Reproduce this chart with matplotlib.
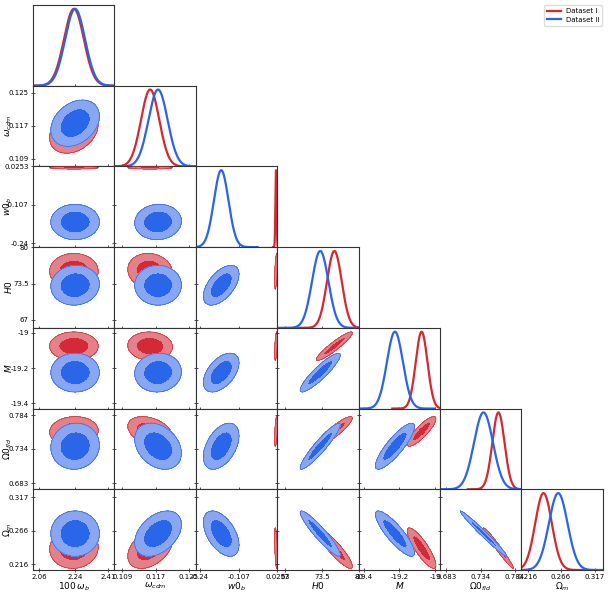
import numpy as np
import matplotlib
matplotlib.use('Agg')
import matplotlib.pyplot as plt
from matplotlib.lines import Line2D

# parametros (ordem do triangulo)
labels = [r'$100\,\omega_b$', r'$\omega_{cdm}$', r'$w0_b$', r'$H0$', r'$M$',
          r'$\Omega0_{fld}$', r'$\Omega_m$']
limits = [(2.03, 2.44), (0.1071, 0.1267), (-0.254, 0.0253), (65.6, 80.0),
          (-19.429, -18.971), (0.674, 0.794), (0.207, 0.329)]
ticks = [[2.06, 2.24, 2.41], [0.109, 0.117, 0.125], [-0.24, -0.107, 0.0253],
         [67, 73.5, 80], [-19.4, -19.2, -19.0], [0.683, 0.734, 0.784],
         [0.216, 0.266, 0.317]]
tick_labels = [['2.06', '2.24', '2.41'], ['0.109', '0.117', '0.125'],
               ['-0.24', '-0.107', '0.0253'], ['67', '73.5', '80'],
               ['-19.4', '-19.2', '-19'], ['0.683', '0.734', '0.784'],
               ['0.216', '0.266', '0.317']]

# Dataset I (vermelho)
mean1 = [2.236, 0.1157, 0.021, 75.7, -19.075, 0.760, 0.240]
sigma1 = [0.050, 0.0022, 0.002, 1.30, 0.033, 0.009, 0.0125]
corr1 = [
    [1.00, 0.30, 0.00, 0.00, 0.00, 0.05, 0.05],
    [0.30, 1.00, 0.00, -0.10, -0.05, -0.35, 0.40],
    [0.00, 0.00, 1.00, 0.50, 0.50, 0.50, -0.50],
    [0.00, -0.10, 0.50, 1.00, 0.93, 0.90, -0.90],
    [0.00, -0.05, 0.50, 0.93, 1.00, 0.85, -0.85],
    [0.05, -0.35, 0.50, 0.90, 0.85, 1.00, -0.98],
    [0.05, 0.40, -0.50, -0.90, -0.85, -0.98, 1.00],
]

# Dataset II (azul)
mean2 = [2.242, 0.1176, -0.167, 73.2, -19.225, 0.738, 0.262]
sigma2 = [0.050, 0.0023, 0.025, 1.45, 0.045, 0.014, 0.014]
corr2 = [
    [1.00, 0.30, 0.00, 0.05, 0.00, 0.05, 0.00],
    [0.30, 1.00, 0.05, 0.00, 0.05, -0.30, 0.40],
    [0.00, 0.05, 1.00, 0.55, 0.50, 0.45, -0.50],
    [0.05, 0.00, 0.55, 1.00, 0.90, 0.93, -0.93],
    [0.00, 0.05, 0.50, 0.90, 1.00, 0.85, -0.85],
    [0.05, -0.30, 0.45, 0.93, 0.85, 1.00, -0.985],
    [0.00, 0.40, -0.50, -0.93, -0.85, -0.985, 1.00],
]

nomes = ['Dataset I', 'Dataset II']
cor_linha = ['#D62830', '#2A64EA']
cor_dentro = ['#D42A38', '#2A66EA']
cor_fora = ['#E48088', '#88A6F2']

datasets = [(mean1, sigma1, corr1), (mean2, sigma2, corr2)]
n = len(labels)

fig, axes = plt.subplots(n, n, figsize=(6.09, 5.93), dpi=100)
fig.subplots_adjust(left=0.0542, right=0.990, top=0.9916, bottom=0.0388,
                    wspace=0, hspace=0)

for i in range(n):
    for j in range(n):
        ax = axes[i, j]
        if j > i:
            ax.axis('off')
            continue

        ax.set_xlim(limits[j])
        ax.set_xticks(ticks[j])
        for s in ax.spines.values():
            s.set_color('#333333')
            s.set_linewidth(0.8)

        if i == j:
            # distribuicao 1D
            for k, (m, sg, c) in enumerate(datasets):
                x = np.linspace(m[j] - 5 * sg[j], m[j] + 5 * sg[j], 800)
                y = np.exp(-0.5 * ((x - m[j]) / sg[j]) ** 2)
                ax.plot(x, y, color=cor_linha[k], lw=1.6)
            ax.set_ylim(0, 1.05)
            ax.set_yticks([])
        else:
            ax.set_ylim(limits[i])
            ax.set_yticks(ticks[i])
            for k, (m, sg, c) in enumerate(datasets):
                mx, my = m[j], m[i]
                sx, sy = sg[j], sg[i]
                r = c[i][j]
                gx = np.linspace(mx - 4 * sx, mx + 4 * sx, 300)
                gy = np.linspace(my - 4 * sy, my + 4 * sy, 300)
                X, Y = np.meshgrid(gx, gy)
                dx = (X - mx) / sx
                dy = (Y - my) / sy
                chi2 = (dx ** 2 - 2 * r * dx * dy + dy ** 2) / (1 - r ** 2)
                z = 2 + 2 * k
                ax.contourf(X, Y, chi2, levels=[0, 2.30, 5.99],
                            colors=[cor_dentro[k], cor_fora[k]], zorder=z)
                ax.contour(X, Y, chi2, levels=[5.99], colors=[cor_linha[k]],
                           linewidths=0.5, zorder=z + 1)

        ax.tick_params(direction='inout', length=3, width=0.6, pad=1.5,
                       labelsize=5, colors='#333333', labelcolor='black')

        if i == n - 1:
            ax.set_xticklabels(tick_labels[j])
            ax.set_xlabel(labels[j], fontsize=6.5, labelpad=0)
        else:
            ax.set_xticklabels([])

        if j == 0 and i > 0:
            ax.set_yticklabels(tick_labels[i])
            ax.set_ylabel(labels[i], fontsize=6.5)
            ax.yaxis.set_label_coords(-0.23, 0.5)
        elif i != j:
            ax.set_yticklabels([])

handles = [Line2D([0], [0], color=cor_linha[k], lw=1.6) for k in range(2)]
fig.legend(handles, nomes, loc='upper right', bbox_to_anchor=(0.995, 0.997),
           fontsize=5, handlelength=2.0, labelspacing=0.4, borderpad=0.4,
           framealpha=1, edgecolor='#dddddd')

fig.savefig('out.png', dpi=100)
